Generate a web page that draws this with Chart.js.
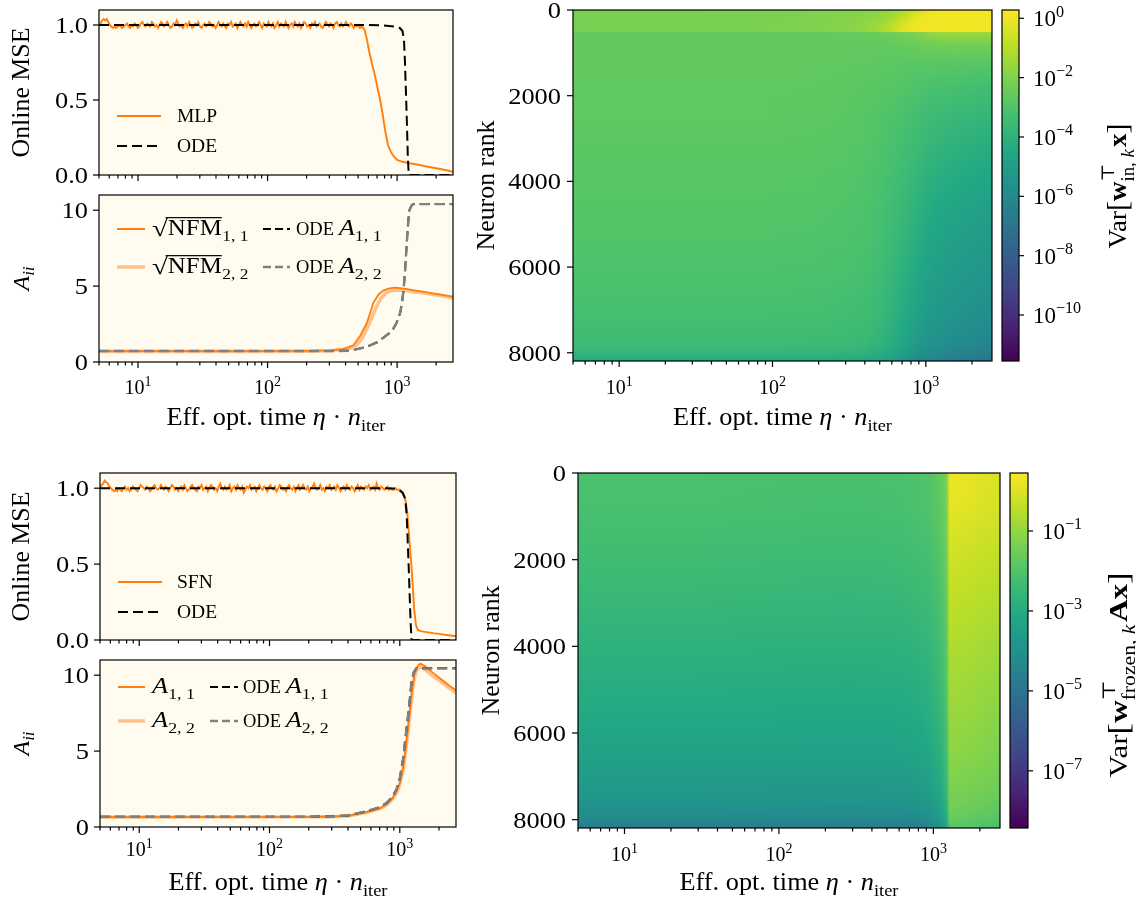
<!DOCTYPE html>
<html><head><meta charset="utf-8">
<script src="https://cdn.jsdelivr.net/npm/chart.js@4.4.1/dist/chart.umd.min.js"></script>
<style>
html,body{margin:0;padding:0;background:#fff;}
#wrap{position:relative;width:1136px;height:902px;overflow:hidden;background:#fff;}
canvas{position:absolute;}
</style></head><body><div id="wrap">
<canvas id="c1" width="470" height="190" style="left:0px;top:0px"></canvas>
<canvas id="c2" width="470" height="250" style="left:0px;top:190px"></canvas>
<canvas id="c3" width="470" height="190" style="left:0px;top:460px"></canvas>
<canvas id="c4" width="470" height="252" style="left:0px;top:650px"></canvas>
<canvas id="c5" width="530" height="440" style="left:470px;top:0px"></canvas>
<canvas id="c6" width="141" height="440" style="left:995px;top:0px"></canvas>
<canvas id="c7" width="540" height="442" style="left:470px;top:460px"></canvas>
<canvas id="c8" width="133" height="442" style="left:1003px;top:460px"></canvas>
</div>
<script>
// ================= DATA =================
const xMin = 5, xMax = 2700;
const xMajor = [10, 100, 1000];
const xMajorExp = ['1', '2', '3'];
const xMinor = [5,6,7,8,9,20,30,40,50,60,70,80,90,200,300,400,500,600,700,800,900,2000];
const mseTicks = [0, 0.5, 1.0];
const mseTickLabels = ['0.0', '0.5', '1.0'];
const aTicks = [0, 5, 10];
const aTickLabels = ['0', '5', '10'];
const rankTicks = [0, 2000, 4000, 6000, 8000];
const rankTickLabels = ['0', '2000', '4000', '6000', '8000'];
const cbTopTicks = [0, -2, -4, -6, -8, -10];
const cbBotTicks = [-1, -3, -5, -7];

// time samples of the noisy plateau
const tNoisy = [5.00,5.14,5.28,5.43,5.58,5.74,5.90,6.06,6.23,6.41,
  6.59,6.77,6.96,7.16,7.36,7.56,7.77,7.99,8.22,8.45,
  8.68,8.93,9.18,9.43,9.70,9.97,10.25,10.5,10.8,11.1,
  11.4,11.8,12.1,12.4,12.8,13.1,13.5,13.9,14.3,14.7,
  15.1,15.5,15.9,16.4,16.8,17.3,17.8,18.3,18.8,19.3,
  19.9,20.4,21.0,21.6,22.2,22.8,23.4,24.1,24.8,25.5,
  26.2,26.9,27.7,28.4,29.2,30.1,30.9,31.8,32.7,33.6,
  34.5,35.5,36.5,37.5,38.6,39.7,40.8,41.9,43.1,44.3,
  45.5,46.8,48.1,49.5,50.9,52.3,53.8,55.3,56.8,58.4,
  60.0,61.7,63.5,65.2,67.1,69.0,70.9,72.9,74.9,77.0,
  79.2,81.4,83.7,86.0,88.4,90.9,93.5,96.1,98.8,101.5,
  104,107,110,113,117,120,123,127,130,134,
  138,141,145,149,154,158,162,167,171,176,
  181,186,191,197,202,208,214,220,226,232,
  239,245,252,259,266,274,282,290,298,306,
  315,323,332,342,351,361,371,382,392,403,
  415,426,438,451,463,476,490,503,517,532];

// Top: MLP online MSE
const mlpPlateau = [1.00,1.01,1.03,1.04,1.03,1.04,1.02,1.00,0.99,0.98,
  0.99,0.98,0.99,1.00,0.99,0.98,0.99,1.00,1.01,0.99,
  0.98,1.00,0.99,1.01,1.00,0.98,0.99,1.01,1.02,1.00,
  0.99,1.01,1.00,0.99,1.02,1.01,0.99,1.00,0.98,1.00,
  1.02,1.01,0.99,1.00,1.02,1.00,0.98,0.99,1.01,1.00,
  1.03,1.01,0.99,1.00,0.98,1.00,1.01,0.99,1.02,1.00,
  0.98,0.99,1.01,1.00,1.02,0.99,0.98,1.00,1.01,0.99,
  1.00,1.02,1.01,0.99,1.00,0.98,1.00,1.02,1.00,0.99,
  1.01,0.99,0.98,1.01,1.00,1.02,0.99,1.00,1.01,0.98,
  1.00,1.02,1.00,0.99,1.01,0.99,1.02,1.00,0.98,1.00,
  1.01,0.99,1.00,1.02,1.00,0.98,1.01,1.00,0.99,1.02,
  1.00,0.99,1.01,0.98,1.00,1.02,0.99,1.01,1.00,0.99,
  1.02,1.00,0.98,1.00,1.01,0.99,1.02,1.00,0.99,1.01,
  0.98,1.00,1.02,1.01,0.99,1.00,0.98,1.01,1.00,1.02,
  0.99,1.00,1.01,0.99,0.98,1.00,1.02,1.00,0.99,1.01,
  1.00,0.98,1.01,1.02,1.00,0.99,1.01,0.99,1.00,1.02,
  1.00,0.99,1.01,1.00,0.98,1.00,0.99,1.00,0.98,0.99];
const mlpTailT = [560,586,610,640,676,710,740,775,807,850,900,950,1000,1100,1250,1425,1650,1900,2200,2450,2700];
const mlpTailV = [0.97,0.90,0.82,0.74,0.66,0.57,0.50,0.40,0.30,0.20,0.15,0.12,0.10,0.088,0.078,0.07,0.058,0.048,0.038,0.03,0.022];
const odeTopT = [5,300,600,780,950,1050,1100,1130,1150,1170,1190,1210,1230,2700];
const odeTopV = [1.0,1.0,1.0,0.998,0.99,0.98,0.96,0.90,0.75,0.55,0.35,0.12,0.0,0.0];

// Top: A_ii
const nfm11T = [5,100,200,300,380,460,520,583,656,720,783,870,966,1100,1400,1800,2200,2700];
const nfm11V = [0.72,0.72,0.73,0.76,0.85,1.1,1.75,2.55,3.9,4.45,4.7,4.85,4.9,4.85,4.7,4.55,4.42,4.3];
const nfm22T = [5,100,200,300,400,480,540,600,680,750,820,900,1000,1200,1600,2200,2700];
const nfm22V = [0.7,0.7,0.71,0.74,0.82,1.05,1.6,2.4,3.5,4.2,4.55,4.7,4.75,4.7,4.55,4.38,4.22];
const odeA11TopT = [5,200,300,434,583,700,783,870,935,980,1020,1060,1090,1120,1150,1190,1220,1245,1290,1330,2700];
const odeA11TopV = [0.72,0.72,0.72,0.74,1.0,1.3,1.6,1.9,2.2,2.5,2.85,3.3,3.9,4.7,5.9,8.0,9.3,10.0,10.3,10.4,10.4];
const odeA22TopT = [5,200,300,434,583,700,783,870,935,980,1020,1060,1090,1120,1150,1190,1220,1245,1290,1330,2700];
const odeA22TopV = [0.72,0.72,0.72,0.74,1.0,1.3,1.6,1.9,2.2,2.5,2.85,3.3,3.9,4.7,5.9,8.0,9.3,10.0,10.3,10.4,10.4];

// Bottom: SFN online MSE
const sfnExtraT = [547,562,578,594,611,628,646,664,682,701,721,741,762,783,805,828,851,875,900,925,951,978,1005];
const sfnPlateau = [1.00,1.02,1.03,1.05,1.04,1.03,1.01,1.00,0.99,0.98,
  0.99,0.98,1.00,0.99,0.98,1.00,1.01,0.99,1.00,0.98,
  0.99,1.01,1.00,0.99,0.98,1.00,1.02,1.01,1.00,0.99,
  1.01,1.00,0.98,0.99,1.01,1.02,1.00,0.99,1.00,1.02,
  1.00,0.99,1.01,1.00,0.98,1.00,1.02,1.01,0.99,1.00,
  0.98,1.00,1.01,0.99,1.02,1.00,0.98,0.99,1.01,1.02,
  1.00,0.99,0.98,1.01,1.00,1.02,0.99,1.00,1.01,0.98,
  1.00,1.02,1.01,0.99,1.00,0.98,1.01,1.03,1.00,0.99,
  1.01,0.99,1.00,1.02,0.98,1.00,1.01,0.99,1.02,1.00,
  0.99,1.01,0.97,0.99,1.01,1.00,1.02,0.99,1.00,1.01,
  0.98,1.00,1.02,1.00,0.99,1.01,1.00,0.98,1.01,1.02,
  1.00,0.99,1.01,0.98,1.00,1.02,1.01,0.99,1.00,0.98,
  1.01,1.02,1.00,0.99,1.01,0.98,1.00,1.02,0.99,1.00,
  1.02,1.00,0.99,1.01,0.98,1.00,1.01,1.03,1.00,0.99,
  1.00,1.02,0.99,1.00,0.98,1.01,1.00,1.02,0.99,1.00,
  1.01,0.99,1.02,1.00,0.98,1.00,1.01,0.99,1.02,1.00,
  0.99,1.01,1.00,0.98,1.00,1.02,0.99,1.01,1.00,0.99,
  1.01,1.00,1.02,0.99,1.00,1.01,0.99,1.03,1.00,0.99,
  1.01,1.00,0.99,1.00,1.01,0.99,1.00,0.99,0.99,1.00,
  0.99,0.99,0.99];
const sfnTailT = [1060,1100,1135,1170,1200,1230,1260,1290,1330,1375,1450,1600,1800,2000,2200,2450,2700];
const sfnTailV = [0.97,0.93,0.86,0.72,0.60,0.48,0.34,0.20,0.10,0.066,0.058,0.052,0.045,0.04,0.035,0.03,0.025];
const odeBotT = [5,300,700,900,980,1050,1100,1130,1150,1170,1190,1210,1230,2700];
const odeBotV = [1.0,1.0,1.0,0.998,0.99,0.97,0.93,0.82,0.65,0.48,0.30,0.12,0.0,0.0];

// Bottom: A_ii
const a11T = [5,200,300,400,555,700,795,880,945,1000,1060,1110,1160,1210,1250,1300,1350,1400,1450,1550,1800,2100,2400,2700];
const a11V = [0.67,0.67,0.69,0.74,0.98,1.22,1.5,1.9,2.35,2.9,3.9,5.2,6.6,8.1,9.2,10.1,10.5,10.7,10.75,10.6,10.15,9.7,9.3,9.0];
const a22T = [5,300,400,555,700,800,880,950,1000,1060,1110,1160,1210,1250,1300,1350,1400,1450,1550,1800,2100,2400,2700];
const a22V = [0.65,0.68,0.73,0.96,1.2,1.48,1.85,2.3,2.8,3.8,5.0,6.4,7.9,9.0,9.9,10.35,10.5,10.55,10.4,9.95,9.55,9.15,8.85];
const odeA11BotT = [5,200,300,400,555,700,795,880,945,1000,1060,1110,1160,1200,1230,1280,1340,2700];
const odeA11BotV = [0.67,0.67,0.70,0.76,1.03,1.3,1.6,2.0,2.5,3.2,4.5,6.0,7.4,8.6,9.6,10.2,10.45,10.45];
const odeA22BotT = [5,200,300,400,555,700,795,880,945,1000,1060,1110,1160,1200,1230,1280,1340,2700];
const odeA22BotV = [0.67,0.67,0.70,0.76,1.03,1.3,1.6,2.0,2.5,3.2,4.5,6.0,7.4,8.6,9.6,10.2,10.45,10.45];

// Heatmap top: log10 Var at mesh nodes (time nodes x neuron-rank nodes)
const hmTopTimes = [5,30,100,200,300,400,500,600,700,800,900,1000,1200,1500,2000,2700];
const hmTopRanks = [0,200,380,505,530,800,1250,1750,2500,3500,4500,5500,6250,6750,7250,7650,7900,8050,8192];
const hmTopVals = [
 [-2.15,-2.12,-2.08,-2.03,-1.97,-1.9,-1.8,-1.6,-1.3,-0.95,-0.5,-0.15,0.05,0.1,0.08,0.05],
 [-2.15,-2.12,-2.08,-2.0,-1.93,-1.82,-1.65,-1.3,-0.8,-0.35,-0.05,0.05,0.1,0.1,0.08,0.05],
 [-2.15,-2.12,-2.05,-1.97,-1.88,-1.7,-1.4,-0.9,-0.35,-0.05,0.05,0.08,0.1,0.1,0.08,0.05],
 [-2.15,-2.12,-2.05,-1.97,-1.88,-1.7,-1.4,-0.85,-0.3,-0.05,0.05,0.08,0.1,0.1,0.08,0.05],
 [-2.55,-2.55,-2.55,-2.55,-2.52,-2.48,-2.42,-2.33,-2.2,-2.05,-1.9,-1.75,-1.55,-1.45,-1.45,-1.5],
 [-2.6,-2.6,-2.6,-2.6,-2.6,-2.6,-2.6,-2.57,-2.52,-2.47,-2.42,-2.36,-2.28,-2.22,-2.22,-2.3],
 [-2.6,-2.6,-2.6,-2.62,-2.65,-2.67,-2.7,-2.72,-2.75,-2.77,-2.8,-2.8,-2.82,-2.82,-2.84,-2.86],
 [-2.65,-2.65,-2.65,-2.68,-2.72,-2.77,-2.82,-2.87,-2.92,-2.97,-3.02,-3.07,-3.12,-3.18,-3.25,-3.32],
 [-2.7,-2.7,-2.7,-2.73,-2.78,-2.85,-2.95,-3.05,-3.15,-3.25,-3.35,-3.45,-3.55,-3.65,-3.75,-3.85],
 [-2.8,-2.8,-2.8,-2.83,-2.88,-2.95,-3.08,-3.22,-3.37,-3.52,-3.67,-3.82,-3.97,-4.12,-4.27,-4.4],
 [-2.9,-2.9,-2.9,-2.93,-2.98,-3.05,-3.2,-3.4,-3.6,-3.8,-4.0,-4.2,-4.4,-4.57,-4.72,-4.85],
 [-3.0,-3.0,-3.0,-3.03,-3.08,-3.15,-3.32,-3.57,-3.82,-4.07,-4.3,-4.52,-4.75,-4.92,-5.07,-5.2],
 [-3.1,-3.1,-3.1,-3.13,-3.18,-3.27,-3.47,-3.75,-4.05,-4.32,-4.55,-4.77,-5.0,-5.17,-5.32,-5.45],
 [-3.2,-3.2,-3.2,-3.23,-3.28,-3.37,-3.57,-3.85,-4.15,-4.45,-4.7,-4.92,-5.15,-5.32,-5.5,-5.65],
 [-3.3,-3.3,-3.3,-3.33,-3.38,-3.47,-3.67,-3.97,-4.32,-4.65,-4.9,-5.12,-5.35,-5.52,-5.7,-5.85],
 [-3.45,-3.45,-3.45,-3.48,-3.53,-3.62,-3.85,-4.17,-4.52,-4.85,-5.1,-5.32,-5.55,-5.75,-5.95,-6.1],
 [-3.6,-3.6,-3.6,-3.63,-3.68,-3.77,-4.0,-4.32,-4.7,-5.1,-5.35,-5.52,-5.77,-6.0,-6.2,-6.35],
 [-3.9,-3.9,-3.9,-3.93,-3.98,-4.07,-4.3,-4.62,-5.0,-5.4,-5.65,-5.82,-6.07,-6.3,-6.5,-6.65],
 [-4.3,-4.3,-4.3,-4.33,-4.38,-4.47,-4.7,-5.02,-5.4,-5.8,-6.05,-6.22,-6.47,-6.7,-6.9,-7.05]];
const hmTopRange = [-11.55, 0.28];

// Heatmap bottom
const hmBotTimes = [5,30,100,300,600,800,950,1100,1180,1230,1270,1400,1700,2100,2700];
const hmBotRanks = [0,750,1500,2500,3500,4500,5500,6500,7250,7650,7900,8050,8192];
const hmBotVals = [
 [-2.1,-2.1,-2.13,-2.15,-2.12,-2.05,-1.95,-1.75,-1.5,-1.1,0.2,0.22,0.15,0.05,-0.05],
 [-2.15,-2.15,-2.18,-2.2,-2.17,-2.1,-2.0,-1.8,-1.55,-1.15,0.12,0.14,0.07,-0.03,-0.13],
 [-2.25,-2.25,-2.28,-2.3,-2.27,-2.2,-2.1,-1.9,-1.65,-1.25,-0.08,-0.08,-0.13,-0.22,-0.3],
 [-2.45,-2.45,-2.48,-2.5,-2.47,-2.4,-2.3,-2.05,-1.8,-1.4,-0.33,-0.33,-0.38,-0.45,-0.52],
 [-2.65,-2.65,-2.68,-2.7,-2.67,-2.6,-2.48,-2.22,-1.95,-1.55,-0.53,-0.53,-0.58,-0.65,-0.72],
 [-2.85,-2.85,-2.88,-2.9,-2.87,-2.8,-2.67,-2.4,-2.1,-1.7,-0.73,-0.73,-0.78,-0.86,-0.93],
 [-3.05,-3.05,-3.08,-3.1,-3.07,-3.0,-2.86,-2.58,-2.27,-1.87,-0.9,-0.9,-0.95,-1.03,-1.12],
 [-3.35,-3.35,-3.38,-3.4,-3.37,-3.3,-3.13,-2.82,-2.48,-2.07,-1.1,-1.1,-1.15,-1.23,-1.32],
 [-3.65,-3.65,-3.68,-3.7,-3.67,-3.6,-3.42,-3.07,-2.7,-2.27,-1.3,-1.3,-1.35,-1.43,-1.52],
 [-3.9,-3.9,-3.93,-3.95,-3.92,-3.85,-3.65,-3.28,-2.9,-2.47,-1.45,-1.45,-1.52,-1.62,-1.72],
 [-4.15,-4.15,-4.18,-4.2,-4.17,-4.1,-3.88,-3.5,-3.1,-2.65,-1.6,-1.6,-1.67,-1.77,-1.87],
 [-4.45,-4.45,-4.48,-4.5,-4.47,-4.4,-4.15,-3.75,-3.3,-2.85,-1.75,-1.75,-1.82,-1.92,-2.02],
 [-4.8,-4.8,-4.83,-4.85,-4.82,-4.75,-4.45,-4.0,-3.5,-3.05,-1.9,-1.9,-1.97,-2.07,-2.17]];
const hmBotRange = [-8.43, 0.45];

// ================= STYLE / HELPERS =================
const FAM = "'Liberation Serif','DejaVu Serif',serif";
Chart.defaults.font.family = FAM;
Chart.defaults.color = '#000';
const ORANGE = '#ff7f0e', LORANGE = '#ffc28c', GRAY = '#808080', CREAM = '#fffcef';
const VIR = ['#440154','#482475','#414487','#355f8d','#2a788e','#21918c','#22a884','#44bf70','#7ad151','#bddf26','#fde725']
  .map(h=>[parseInt(h.slice(1,3),16),parseInt(h.slice(3,5),16),parseInt(h.slice(5,7),16)]);
function viridis(t){
  t = Math.max(0, Math.min(1, t)); const p = t*10; const i = Math.min(9, Math.floor(p)); const f = p - i;
  const a = VIR[i], b = VIR[i+1];
  return 'rgb(' + [0,1,2].map(k=>Math.round(a[k]+(b[k]-a[k])*f)).join(',') + ')';
}
function fnt(f, size){ return (f==='i'?'italic ':f==='b'?'bold ':'') + size.toFixed(2) + 'px ' + FAM; }
function measureSegs(ctx, segs, size){
  let x = 0, mx = 0;
  for (const s of segs){
    ctx.font = fnt(s.f, size*(s.s||1));
    const w = ctx.measureText(s.t).width*(s.x||1);
    mx = Math.max(mx, x+w);
    if (s.adv!==false) x += w + (s.sp||0)*size;
  }
  return Math.max(x, mx);
}
function drawRich(ctx, segs, x, y, o){
  const size = o.size, W = measureSegs(ctx, segs, size);
  const sx = o.target ? o.target / W : (o.sx || 1);
  const Wt = W*sx;
  const start = o.align==='center' ? x - Wt/2 : (o.align==='right' ? x - Wt : x);
  ctx.save(); ctx.translate(start, y); ctx.scale(sx, 1);
  ctx.textAlign = 'left'; ctx.textBaseline = 'alphabetic'; ctx.fillStyle = '#000';
  let cx = 0;
  for (const s of segs){
    const sz = size*(s.s||1); ctx.font = fnt(s.f, sz);
    const mw = ctx.measureText(s.t).width, ex = s.x || 1;
    ctx.save(); ctx.translate(cx, (s.dy||0)*size); ctx.scale(ex, 1);
    ctx.fillText(s.t, 0, 0);
    if (s.ol) ctx.fillRect(-2, -s.ol*sz, mw + 2, 1.2);
    ctx.restore();
    if (s.adv!==false) cx += mw*ex + (s.sp||0)*size;
  }
  ctx.restore();
}
function drawRot(ctx, segs, x, y, o){
  ctx.save(); ctx.translate(x, y); ctx.rotate(-Math.PI/2);
  drawRich(ctx, segs, 0, 0, Object.assign({}, o, {align:'center'}));
  ctx.restore();
}
function powSegs(e){ return [{t:'10'},{t:String(e).replace('-','\u2212'), s:0.7, dy:-0.42}]; }
const xTitleSegs = [{t:'Eff. opt. time '},{t:'\u03b7',f:'i'},{t:' \u00b7 '},{t:'n',f:'i'},{t:'iter',s:0.7,dy:0.22}];
const aiiSegs = [{t:'A',f:'i'},{t:'ii',f:'i',s:0.7,dy:0.22}];
const mseSegs = [{t:'Online MSE'}];
const rankSegs = [{t:'Neuron rank'}];
const cbTopSegs = [{t:'Var'},{t:'[',s:1.12,dy:0.05},{t:'w',f:'b'},{t:'\u22a4',s:0.7,dy:-0.45,adv:false},{t:'in, ',s:0.7,dy:0.3},{t:'k',f:'i',s:0.7,dy:0.3,sp:0.08},{t:'x',f:'b'},{t:']',s:1.12,dy:0.05}];
const cbBotSegs = [{t:'Var'},{t:'[',s:1.12,dy:0.05},{t:'w',f:'b'},{t:'\u22a4',s:0.7,dy:-0.45,adv:false},{t:'frozen, ',s:0.7,dy:0.3},{t:'k',f:'i',s:0.7,dy:0.3,sp:0.08},{t:'A',f:'b'},{t:'x',f:'b'},{t:']',s:1.12,dy:0.05}];

function pts(xs, ys){ const n = Math.min(xs.length, ys.length); const out = []; for (let i = 0; i < n; i++) out.push({x: xs[i], y: ys[i]}); return out; }
function line(ctx, x0, y0, x1, y1){ ctx.beginPath(); ctx.moveTo(x0,y0); ctx.lineTo(x1,y1); ctx.stroke(); }

function decoPlugin(o){
  return {
    id: 'deco',
    beforeDraw(chart){
      if (!o.bg) return;
      const a = chart.chartArea, c = chart.ctx;
      c.save(); c.fillStyle = o.bg; c.fillRect(a.left, a.top, a.right-a.left, a.bottom-a.top); c.restore();
    },
    beforeDatasetsDraw(chart){ if (o.cells) o.cells(chart); },
    afterDraw(chart){
      const c = chart.ctx, a = chart.chartArea, xs = chart.scales.x, ys = chart.scales.y;
      c.save();
      c.strokeStyle = '#000'; c.lineWidth = 1.2; c.setLineDash([]);
      if (o.xticks){
        for (const v of xMajor){ const x = xs.getPixelForValue(v); line(c, x, a.bottom, x, a.bottom+6); }
        for (const v of xMinor){ const x = xs.getPixelForValue(v); line(c, x, a.bottom, x, a.bottom+3.5); }
      }
      if (o.yticks){
        o.yticks.forEach((v, i) => {
          const y = ys.getPixelForValue(v); line(c, a.left-6, y, a.left, y);
          drawRich(c, [{t:o.ylabels[i]}], a.left - o.ylabGap, y + 8, {size: 24, sx: 1.1, align: 'right'});
        });
      }
      if (o.cbticks){
        for (const v of o.cbticks){ const y = ys.getPixelForValue(v); line(c, a.right, y, a.right+5, y); drawRich(c, powSegs(v), o.cbLabelX, y+8, {size: 23, align: 'left'}); }
      }
      c.strokeRect(a.left, a.top, a.right-a.left, a.bottom-a.top);
      if (o.xlabels){ xMajor.forEach((v,i)=>{ drawRich(c, powSegs(xMajorExp[i]), xs.getPixelForValue(v), o.xlabelY, {size: 20, align: 'center'}); }); }
      if (o.xtitleY) drawRich(c, xTitleSegs, (a.left+a.right)/2, o.xtitleY, {size: 25, target: 219, align: 'center'});
      if (o.ytitle) drawRot(c, o.ytitle, o.ytitleX, o.ytitleY !== undefined ? o.ytitleY : (a.top+a.bottom)/2, o.ytitleOpt);
      if (o.legend){
        for (const it of o.legend){
          c.strokeStyle = it.color; c.lineWidth = it.w; c.setLineDash(it.dash||[]); c.lineCap = 'butt';
          line(c, it.x0, it.y, it.x1, it.y);
          c.setLineDash([]);
          drawRich(c, it.segs, it.tx, it.y + 0.33*it.size, {size: it.size, align: 'left'});
        }
      }
      c.restore();
    }
  };
}

function lineChart(id, datasets, yMax, pad, deco){
  return new Chart(document.getElementById(id), {
    type: 'line',
    data: { datasets: datasets },
    options: {
      responsive: false, animation: false, devicePixelRatio: 1, events: [],
      layout: { padding: { left: 0, top: pad.top, right: pad.right, bottom: pad.bottom } },
      plugins: { legend: { display: false }, tooltip: { enabled: false } },
      elements: { point: { radius: 0 }, line: { tension: 0 } },
      scales: {
        x: { type: 'logarithmic', min: xMin, max: xMax, display: false },
        y: { type: 'linear', min: 0, max: yMax,
             grid: { display: false, drawTicks: false }, border: { display: false },
             ticks: { display: false },
             afterFit: s => { s.width = pad.left; s.paddingTop = 0; s.paddingBottom = 0; } }
      }
    },
    plugins: [decoPlugin(deco)]
  });
}
function ds(xs, ys, color, w, dash, order){
  return { data: pts(xs, ys), borderColor: color, borderWidth: w, borderDash: dash || [], order: order, fill: false, pointRadius: 0 };
}
const DASH = [10, 5];
const titleOpt = {size: 25, target: 130};
const aiiOpt = {size: 24};

// ---- Panel 1: top MSE
lineChart('c1', [
  ds(odeTopT, odeTopV, '#000', 2, DASH, 0),
  ds(tNoisy.concat(mlpTailT), mlpPlateau.concat(mlpTailV), ORANGE, 1.9, [], 1)
], 1.1, { left: 99, top: 10, right: 17, bottom: 15 }, {
  bg: CREAM, xticks: true, yticks: mseTicks, ylabels: mseTickLabels, ylabGap: 11,
  ytitle: mseSegs, ytitleX: 29, ytitleOpt: titleOpt,
  legend: [
    { x0: 117, x1: 161, y: 116, color: ORANGE, w: 2, segs: [{t:'MLP'}], tx: 177, size: 19.5 },
    { x0: 117, x1: 161, y: 146, color: '#000', w: 2, dash: DASH, segs: [{t:'ODE'}], tx: 177, size: 19.5 }
  ]
});

// ---- Panel 2: top A_ii
const nfmSegs = (s) => [{t:'\u221a', s:1.25, dy:0.06, x:1.25},{t:'NFM', s:1.19, x:1.13, ol:0.82, sp:0.03},{t:s, s:0.84, x:1.12, dy:0.32}];
const odeASegs = (s) => [{t:'ODE '},{t:'A',f:'i',s:1.19,x:1.2},{t:s, s:0.84, x:1.15, dy:0.32}];
const aSegs = (s) => [{t:'A',f:'i',s:1.19,x:1.2},{t:s, s:0.84, x:1.15, dy:0.32}];
lineChart('c2', [
  ds(odeA22TopT, odeA22TopV, GRAY, 2.4, DASH, 0),
  ds(odeA11TopT, odeA11TopV, '#000', 2, DASH, 1),
  ds(nfm11T, nfm11V, ORANGE, 1.8, [], 2),
  ds(nfm22T, nfm22V, LORANGE, 3.6, [], 3)
], 11, { left: 99, top: 5, right: 17, bottom: 78 }, {
  bg: CREAM, xticks: true, xlabels: true, xlabelY: 204, xtitleY: 235,
  yticks: aTicks, ylabels: aTickLabels, ylabGap: 11,
  ytitle: aiiSegs, ytitleX: 29, ytitleOpt: aiiOpt,
  legend: [
    { x0: 117, x1: 145, y: 39, color: ORANGE, w: 2, segs: nfmSegs('1, 1'), tx: 152, size: 18.5 },
    { x0: 117, x1: 145, y: 77, color: LORANGE, w: 3.5, segs: nfmSegs('2, 2'), tx: 152, size: 18.5 },
    { x0: 263, x1: 290, y: 39, color: '#000', w: 2, dash: [8, 4], segs: odeASegs('1, 1'), tx: 296, size: 18.5 },
    { x0: 263, x1: 290, y: 77, color: GRAY, w: 2.4, dash: [8, 4], segs: odeASegs('2, 2'), tx: 296, size: 18.5 }
  ]
});

// ---- Panel 3: bottom MSE
lineChart('c3', [
  ds(odeBotT, odeBotV, '#000', 2, DASH, 0),
  ds(tNoisy.concat(sfnExtraT, sfnTailT), sfnPlateau.concat(sfnTailV), ORANGE, 1.9, [], 1)
], 1.1, { left: 100, top: 13, right: 14, bottom: 10 }, {
  bg: CREAM, xticks: true, yticks: mseTicks, ylabels: mseTickLabels, ylabGap: 11,
  ytitle: mseSegs, ytitleX: 29, ytitleOpt: titleOpt,
  legend: [
    { x0: 118, x1: 162, y: 122, color: ORANGE, w: 2, segs: [{t:'SFN'}], tx: 177, size: 19.5 },
    { x0: 118, x1: 162, y: 152, color: '#000', w: 2, dash: DASH, segs: [{t:'ODE'}], tx: 177, size: 19.5 }
  ]
});

// ---- Panel 4: bottom A_ii
lineChart('c4', [
  ds(odeA22BotT, odeA22BotV, GRAY, 2.4, DASH, 0),
  ds(odeA11BotT, odeA11BotV, '#000', 2, DASH, 1),
  ds(a11T, a11V, ORANGE, 1.8, [], 2),
  ds(a22T, a22V, LORANGE, 3.6, [], 3)
], 11, { left: 100, top: 10, right: 14, bottom: 75 }, {
  bg: CREAM, xticks: true, xlabels: true, xlabelY: 206, xtitleY: 240,
  yticks: aTicks, ylabels: aTickLabels, ylabGap: 11,
  ytitle: aiiSegs, ytitleX: 29, ytitleOpt: aiiOpt,
  legend: [
    { x0: 118, x1: 145, y: 37, color: ORANGE, w: 2, segs: aSegs('1, 1'), tx: 152, size: 18.5 },
    { x0: 118, x1: 145, y: 71, color: LORANGE, w: 3.5, segs: aSegs('2, 2'), tx: 152, size: 18.5 },
    { x0: 210, x1: 238, y: 37, color: '#000', w: 2, dash: [8, 4], segs: odeASegs('1, 1'), tx: 243, size: 18.5 },
    { x0: 210, x1: 238, y: 71, color: GRAY, w: 2.4, dash: [8, 4], segs: odeASegs('2, 2'), tx: 243, size: 18.5 }
  ]
});

// ---- Heatmaps: mesh with values at nodes, Gouraud-style shading through the chart scales
function meshDrawer(times, ranks, vals, range){
  return function(chart){
    const c = chart.ctx, a = chart.chartArea, xs = chart.scales.x, ys = chart.scales.y;
    const col = v => viridis((v - range[0]) / (range[1] - range[0]));
    const px = times.map(t => xs.getPixelForValue(t));
    const p0 = px[0], pN = px[px.length-1];
    c.save(); c.beginPath(); c.rect(a.left, a.top, a.right-a.left, a.bottom-a.top); c.clip();
    for (let i = 0; i < ranks.length-1; i++){
      const ya = ys.getPixelForValue(ranks[i]), yb = ys.getPixelForValue(ranks[i+1]);
      for (let y = Math.floor(ya); y < Math.ceil(yb); y++){
        const f = Math.max(0, Math.min(1, (y + 0.5 - ya) / (yb - ya)));
        const g = c.createLinearGradient(p0, 0, pN, 0);
        for (let k = 0; k < px.length; k++){
          g.addColorStop((px[k] - p0) / (pN - p0), col(vals[i][k] + (vals[i+1][k] - vals[i][k]) * f));
        }
        c.fillStyle = g; c.fillRect(a.left, y, a.right - a.left, 1);
      }
    }
    c.restore();
  };
}
function heatChart(id, pad, deco){
  return new Chart(document.getElementById(id), {
    type: 'scatter',
    data: { datasets: [] },
    options: {
      responsive: false, animation: false, devicePixelRatio: 1, events: [],
      layout: { padding: { left: 0, top: pad.top, right: pad.right, bottom: pad.bottom } },
      plugins: { legend: { display: false }, tooltip: { enabled: false } },
      scales: {
        x: { type: 'logarithmic', min: xMin, max: xMax, display: false },
        y: { type: 'linear', min: 0, max: 8192, reverse: true,
             grid: { display: false, drawTicks: false }, border: { display: false },
             ticks: { display: false },
             afterFit: s => { s.width = pad.left; s.paddingTop = 0; s.paddingBottom = 0; } }
      }
    },
    plugins: [decoPlugin(deco)]
  });
}
heatChart('c5', { left: 103, top: 10, right: 8, bottom: 79 }, {
  cells: meshDrawer(hmTopTimes, hmTopRanks, hmTopVals, hmTopRange),
  xticks: true, xlabels: true, xlabelY: 394, xtitleY: 425,
  yticks: rankTicks, ylabels: rankTickLabels, ylabGap: 12,
  ytitle: rankSegs, ytitleX: 24, ytitleOpt: titleOpt
});
heatChart('c7', { left: 108, top: 13, right: 10, bottom: 74 }, {
  cells: meshDrawer(hmBotTimes, hmBotRanks, hmBotVals, hmBotRange),
  xticks: true, xlabels: true, xlabelY: 401, xtitleY: 430,
  yticks: rankTicks, ylabels: rankTickLabels, ylabGap: 12,
  ytitle: rankSegs, ytitleX: 29, ytitleOpt: titleOpt
});

// ---- Colorbars
function cbChart(id, range, ticks, pad, labelX, titleSegs, titleX, titleY, titleLen){
  return new Chart(document.getElementById(id), {
    type: 'scatter',
    data: { datasets: [] },
    options: {
      responsive: false, animation: false, devicePixelRatio: 1, events: [],
      layout: { padding: { left: pad.left, top: pad.top, right: pad.right, bottom: pad.bottom } },
      plugins: { legend: { display: false }, tooltip: { enabled: false } },
      scales: {
        x: { type: 'linear', min: 0, max: 1, display: false },
        y: { type: 'linear', min: range[0], max: range[1], display: false }
      }
    },
    plugins: [decoPlugin({
      cells: function(chart){
        const c = chart.ctx, a = chart.chartArea, ys = chart.scales.y;
        for (let y = Math.floor(a.top); y < Math.ceil(a.bottom); y++){
          const v = ys.getValueForPixel(y + 0.5);
          c.fillStyle = viridis((v - range[0]) / (range[1] - range[0]));
          c.fillRect(a.left, y, a.right - a.left, 1);
        }
      },
      cbticks: ticks, cbLabelX: labelX,
      ytitle: titleSegs, ytitleX: titleX, ytitleY: titleY, ytitleOpt: {size: 26, target: titleLen}
    })]
  });
}
cbChart('c6', hmTopRange, cbTopTicks, { left: 7, top: 10, right: 117, bottom: 79 }, 38, cbTopSegs, 131, 186, 125);
cbChart('c8', hmBotRange, cbBotTicks, { left: 7, top: 13, right: 108, bottom: 74 }, 39, cbBotSegs, 124, 215, 205);
</script></body></html>
